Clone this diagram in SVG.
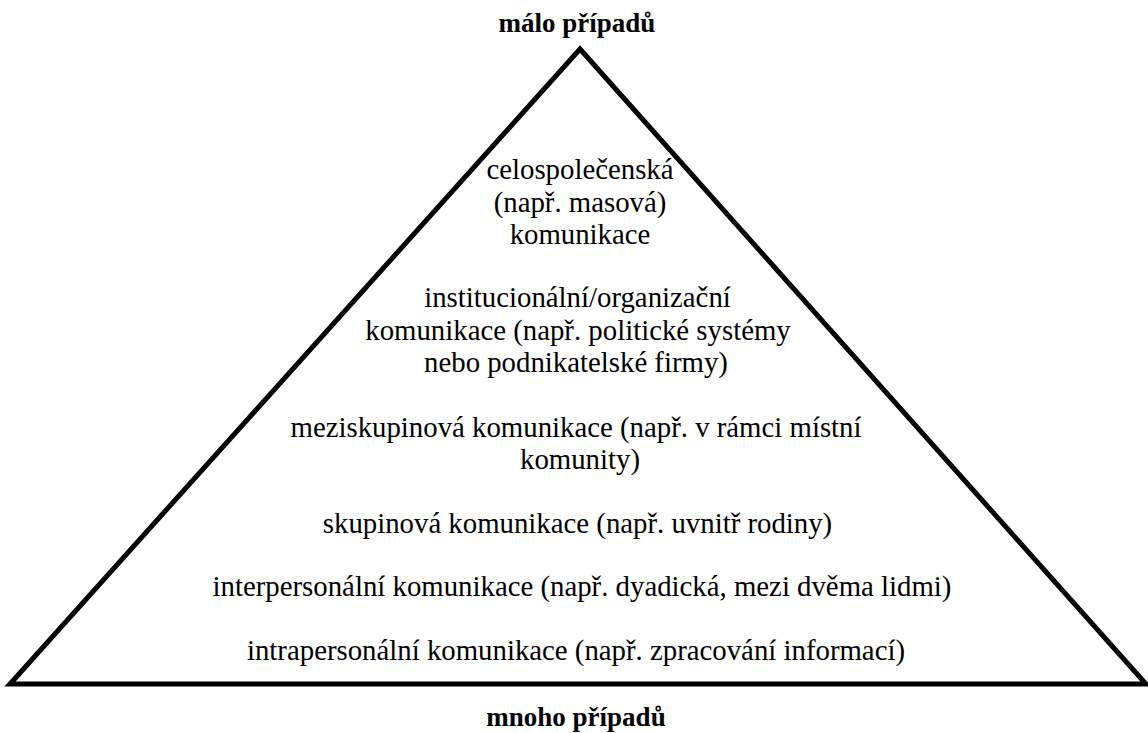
<svg xmlns="http://www.w3.org/2000/svg" width="1148" height="733" viewBox="0 0 1148 733">
<rect width="1148" height="733" fill="#fff"/>
<g id="pyramid">
<polygon points="580,49 1146,684 10,684" fill="none" stroke="#000" stroke-width="5" stroke-linejoin="miter"/>
</g>
<g id="top-label"><text x="577" y="32" font-family="Liberation Serif" font-size="27" font-weight="bold" text-anchor="middle" style="font-family:'Liberation Serif',serif">málo případů</text></g>
<g id="bottom-label"><text x="576" y="726" font-family="Liberation Serif" font-size="27" font-weight="bold" text-anchor="middle" style="font-family:'Liberation Serif',serif">mnoho případů</text></g>
<g id="level-6">
<text x="580" y="179" font-family="Liberation Serif" font-size="28.8" text-anchor="middle" style="font-family:'Liberation Serif',serif">celospolečenská</text>
<text x="580" y="212" font-family="Liberation Serif" font-size="28.8" text-anchor="middle" style="font-family:'Liberation Serif',serif">(např. masová)</text>
<text x="580" y="244" font-family="Liberation Serif" font-size="28.8" text-anchor="middle" style="font-family:'Liberation Serif',serif">komunikace</text>
</g>
<g id="level-5">
<text x="577.5" y="307" font-family="Liberation Serif" font-size="28.8" text-anchor="middle" style="font-family:'Liberation Serif',serif">institucionální/organizační</text>
<text x="578" y="340" font-family="Liberation Serif" font-size="28.8" text-anchor="middle" style="font-family:'Liberation Serif',serif">komunikace (např. politické systémy</text>
<text x="576" y="372" font-family="Liberation Serif" font-size="28.8" text-anchor="middle" style="font-family:'Liberation Serif',serif">nebo podnikatelské firmy)</text>
</g>
<g id="level-4">
<text x="576" y="437" font-family="Liberation Serif" font-size="28.8" text-anchor="middle" style="font-family:'Liberation Serif',serif">meziskupinová komunikace (např. v rámci místní</text>
<text x="580" y="469" font-family="Liberation Serif" font-size="28.8" text-anchor="middle" style="font-family:'Liberation Serif',serif">komunity)</text>
</g>
<g id="level-3"><text x="577.5" y="533" font-family="Liberation Serif" font-size="28.8" text-anchor="middle" style="font-family:'Liberation Serif',serif">skupinová komunikace (např. uvnitř rodiny)</text></g>
<g id="level-2"><text x="582" y="596" font-family="Liberation Serif" font-size="28.8" text-anchor="middle" style="font-family:'Liberation Serif',serif">interpersonální komunikace (např. dyadická, mezi dvěma lidmi)</text></g>
<g id="level-1"><text x="576" y="660" font-family="Liberation Serif" font-size="28.8" text-anchor="middle" style="font-family:'Liberation Serif',serif">intrapersonální komunikace (např. zpracování informací)</text></g>
</svg>
